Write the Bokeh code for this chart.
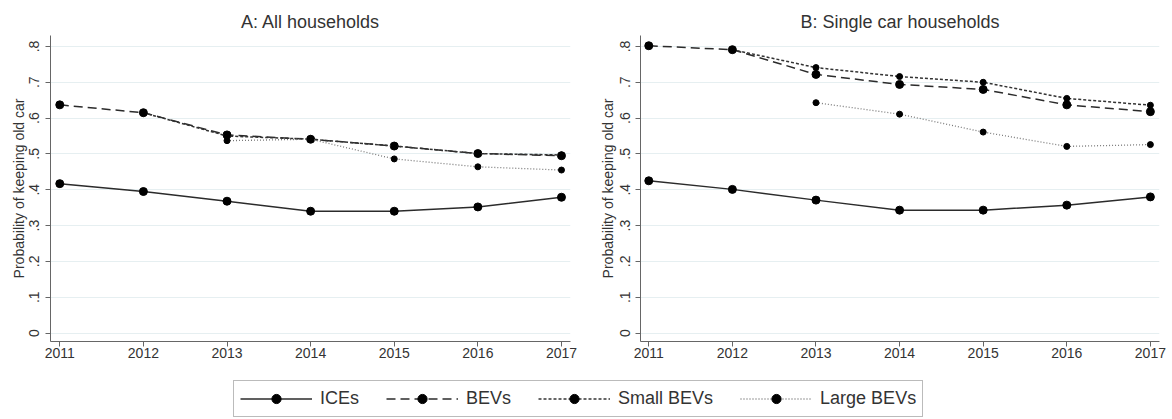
from bokeh.plotting import figure
from bokeh.models import FixedTicker, Legend, LegendItem, Range1d
from bokeh.layouts import column, row
from bokeh.embed import file_html
from bokeh.resources import INLINE

# ---------------- data ----------------
years = [2011, 2012, 2013, 2014, 2015, 2016, 2017]
years_small = [2012, 2013, 2014, 2015, 2016, 2017]
years_large = [2013, 2014, 2015, 2016, 2017]

a_ices = [0.417, 0.395, 0.368, 0.340, 0.340, 0.352, 0.379]
a_bevs = [0.637, 0.615, 0.553, 0.541, 0.522, 0.501, 0.495]
a_small = [0.615, 0.550, 0.541, 0.522, 0.501, 0.497]
a_large = [0.537, 0.541, 0.486, 0.464, 0.455]

b_ices = [0.425, 0.401, 0.371, 0.343, 0.343, 0.357, 0.380]
b_bevs = [0.802, 0.791, 0.722, 0.694, 0.680, 0.637, 0.618]
b_small = [0.791, 0.741, 0.716, 0.700, 0.655, 0.636]
b_large = [0.643, 0.611, 0.561, 0.521, 0.526]

series_names = ["ICEs", "BEVs", "Small BEVs", "Large BEVs"]
panel_titles = ["A: All households", "B: Single car households"]
y_label = "Probability of keeping old car"
ytick_values = [0, 0.1, 0.2, 0.3, 0.4, 0.5, 0.6, 0.7, 0.8]
ytick_labels = ["0", ".1", ".2", ".3", ".4", ".5", ".6", ".7", ".8"]

FONT = "Liberation Sans"

styles = [
    dict(line_color="#2b2b2b", line_width=1.5, line_dash="solid", size=8),
    dict(line_color="#2b2b2b", line_width=1.5, line_dash="9 5", size=8),
    dict(line_color="#333333", line_width=1.5, line_dash="3 2", size=6),
    dict(line_color="#7a7a7a", line_width=1.3, line_dash="1 2", size=6),
]


def make_panel(title, xs_list, ys_list, width, bl, br, x0, x1, tick_standoff, label_standoff):
    p = figure(width=width, height=360,
               x_range=Range1d(x0, x1),
               y_range=Range1d(-0.0237, 0.8306),
               output_backend="svg", toolbar_location=None,
               min_border_left=bl, min_border_right=br,
               min_border_top=35, min_border_bottom=0)
    p.title.text = title
    p.title.align = "center"
    p.title.text_font = FONT
    p.title.text_font_size = "18px"
    p.title.text_font_style = "normal"
    p.title.text_color = "#333333"
    p.title.standoff = 7
    p.outline_line_color = None
    p.xgrid.visible = False
    p.ygrid.grid_line_color = "#e6eff1"
    p.ygrid.grid_line_width = 1
    p.ygrid.ticker = FixedTicker(ticks=ytick_values)

    p.xaxis.ticker = FixedTicker(ticks=years)
    p.yaxis.ticker = FixedTicker(ticks=ytick_values)
    p.yaxis.major_label_overrides = dict(zip(ytick_values, ytick_labels))
    p.yaxis.major_label_orientation = "vertical"
    p.yaxis.axis_label = y_label
    for ax in (p.xaxis, p.yaxis):
        ax.axis_line_color = "#666666"
        ax.major_tick_line_color = "#666666"
        ax.major_tick_out = 5
        ax.major_tick_in = 0
        ax.minor_tick_line_color = None
        ax.major_label_text_font = FONT
        ax.major_label_text_font_size = "14px"
        ax.major_label_text_color = "#333333"
        ax.axis_label_text_font = FONT
        ax.axis_label_text_font_size = "14px"
        ax.axis_label_text_font_style = "normal"
        ax.axis_label_text_color = "#333333"
    p.xaxis.major_label_standoff = 1
    p.yaxis.major_label_standoff = tick_standoff
    p.yaxis.axis_label_standoff = label_standoff

    for xs, ys, st in zip(xs_list, ys_list, styles):
        p.line(xs, ys, line_color=st["line_color"], line_width=st["line_width"],
               line_dash=st["line_dash"])
        p.scatter(xs, ys, marker="circle", size=st["size"],
                  fill_color="black", line_color="black")
    return p


xs_list = [years, years, years_small, years_large]
pa = make_panel(panel_titles[0], xs_list, [a_ices, a_bevs, a_small, a_large],
                580, 50, 10, 2010.889, 2017.108, 6, 0)
pb = make_panel(panel_titles[1], xs_list, [b_ices, b_bevs, b_small, b_large],
                590, 60, 11, 2010.901, 2017.109, 5, 2)

# ---------------- legend strip ----------------
lf = figure(width=1170, height=58, output_backend="svg", toolbar_location=None,
            x_range=Range1d(0, 1), y_range=Range1d(0, 1),
            min_border=0, min_border_left=0, min_border_right=0,
            min_border_top=0, min_border_bottom=0)
lf.axis.visible = False
lf.grid.visible = False
lf.outline_line_color = None
items = []
for name, st in zip(series_names, styles):
    r1 = lf.line([-5, -4], [-5, -4], line_color=st["line_color"], line_width=st["line_width"],
                 line_dash=st["line_dash"])
    r2 = lf.scatter([-5], [-5], marker="circle", size=st["size"],
                    fill_color="black", line_color="black")
    items.append(LegendItem(label=name, renderers=[r1, r2]))
leg = Legend(items=items, orientation="horizontal", location=(233, 1),
             glyph_width=72, glyph_height=23, label_standoff=8, spacing=27,
             padding=6, margin=0,
             label_text_font=FONT, label_text_font_size="18px",
             label_text_color="#333333",
             border_line_color="#777777", border_line_width=1,
             background_fill_alpha=1.0)
lf.add_layout(leg, "center")

layout = column(row(pa, pb), lf)
open("out.html", "w").write(file_html(layout, INLINE))
